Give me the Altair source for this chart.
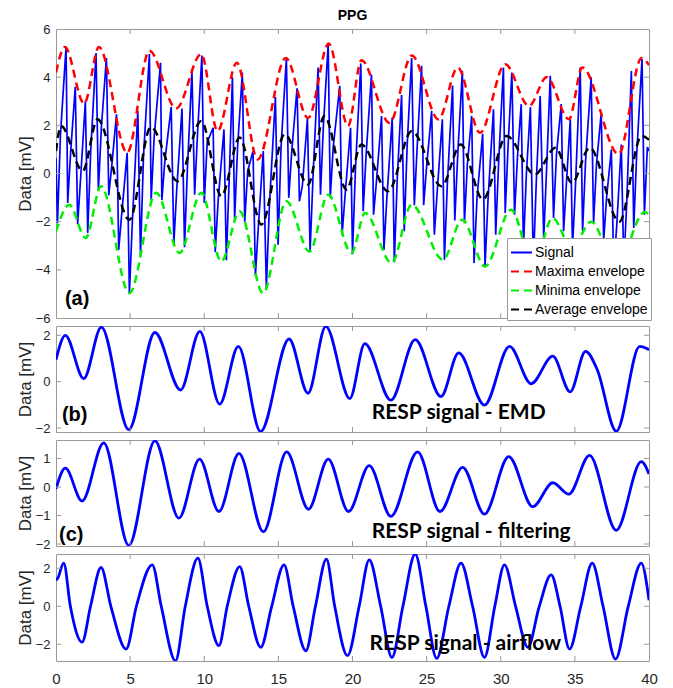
import altair as alt
import pandas as pd

# ---------------- PPG panel (a): signal peaks / troughs ----------------
ppg_t = [0.0, 0.1, 0.68, 0.79, 1.3, 1.46, 1.98, 2.14, 2.7, 2.86, 3.4, 3.56, 4.08, 4.23, 4.8, 4.95,
         5.52, 5.7, 6.3, 6.42, 7.05, 7.14, 7.77, 7.95, 8.5, 8.67, 9.17, 9.35, 9.84, 10.0, 10.6, 10.74,
         11.33, 11.49, 11.9, 12.05, 12.57, 12.73, 13.29, 13.45, 13.98, 14.19, 14.8, 14.98, 15.54, 15.7,
         16.26, 16.42, 16.96, 17.14, 17.68, 17.84, 18.36, 18.5, 19.14, 19.3, 19.87, 20.0, 20.56, 20.72,
         21.28, 21.42, 21.96, 22.12, 22.68, 22.82, 23.31, 23.49, 23.99, 24.17, 24.66, 24.8, 25.34, 25.52,
         26.06, 26.2, 26.75, 26.9, 27.41, 27.55, 28.04, 28.2, 28.78, 28.94, 29.51, 29.66, 30.18, 30.3,
         30.75, 30.93, 31.38, 31.53, 32.0, 32.2, 32.66, 32.9, 33.34, 33.56, 34.08, 34.24, 34.69, 34.84,
         35.36, 35.52, 36.1, 36.26, 36.78, 36.94, 37.46, 37.62, 38.13, 38.3, 38.81, 38.97, 39.53, 39.69, 40.0]
ppg_v = [0.65, -2.05, 5.26, -1.22, 3.6, -2.1, 3.0, -2.47, 5.0, -0.7, 4.8, -0.9, 2.46, -3.17, 0.86, -5.0,
         2.6, -3.4, 4.96, -1.1, 4.6, -1.1, 2.76, -2.9, 2.7, -3.06, 4.24, -0.88, 4.9, -1.22, 1.9, -3.26,
         1.83, -3.6, 4.0, -1.9, 4.19, -2.0, 0.93, -4.24, 0.93, -4.76, 3.18, -2.96, 4.79, -1.01,
         3.54, -1.15, 2.29, -3.24, 4.4, -0.88, 5.38, -1.0, 3.64, -2.54, 1.9, -3.35, 4.57, -1.57,
         4.1, -1.71, 2.39, -3.17, 2.32, -3.68, 3.26, -2.4, 4.79, -1.32, 4.47, -1.32, 2.6, -2.54,
         2.25, -3.58, 3.65, -1.95, 4.26, -2.06, 2.39, -3.72, 1.65, -3.86, 2.67, -2.54, 4.4, -1.64,
         4.19, -1.71, 2.88, -3.1, 2.76, -3.8, 3.22, -2.68, 4.06, -1.85, 2.88, -2.4, 2.25, -3.1,
         4.4, -2.4, 4.0, -2.06, 2.53, -2.8, 1.0, -3.93, 1.2, -3.8, 4.26, -2.26, 4.75, -1.71, 0.93]
# shoulders on each upstroke (kinks between a trough and the next peak)
sh_t = [0.3, 0.99, 1.66, 2.34, 3.06, 3.76, 4.43, 5.15, 5.9, 6.62, 7.34, 8.15, 8.87, 9.55, 10.2, 10.94,
        11.69, 12.25, 12.93, 13.65, 14.39, 15.18, 15.9, 16.62, 17.34, 18.04, 18.7, 19.5, 20.2, 20.92,
        21.62, 22.32, 23.02, 23.69, 24.37, 25.0, 25.72, 26.4, 27.1, 27.75, 28.4, 29.14, 29.86, 30.5,
        31.13, 31.73, 32.4, 33.1, 33.76, 34.44, 35.04, 35.72, 36.46, 37.14, 37.82, 38.5, 39.17, 39.89]
sh_v = [1.6, 0.9, -0.2, 0.9, 1.9, 0.3, -1.7, -2.0, 0.7, 1.5, 0.5, -0.6, 0.3, 1.7, 1.3, -1.1,
        -0.1, 1.1, 0.1, -2.2, -1.4, 1.1, 0.9, -0.5, -0.1, 2.0, 1.1, -0.9, 0.2, 0.8,
        -0.3, -1.0, -0.2, 1.2, 1.2, 0.3, -0.7, -0.4, 0.8, 0.4, -1.0, -1.1, 0.5, 1.2,
        0.7, 0.0, -0.3, 0.3, 0.8, -0.3, -0.5, 0.5, 0.4, -1.0, -2.2, -1.2, 0.8, 1.1]

# envelopes (local extrema of each dashed curve)
max_t = [0, 0.6, 1.9, 2.9, 4.8, 6.3, 8.1, 9.8, 10.9, 12.2, 13.6, 15.5, 17.0, 18.4, 19.7, 20.6, 22.5,
         24.0, 25.8, 27.1, 28.6, 30.3, 31.9, 33.1, 34.6, 35.5, 37.95, 39.5, 40]
max_v = [4.2, 5.25, 2.9, 5.25, 0.86, 5.1, 2.7, 4.96, 1.76, 4.6, 0.58, 4.8, 2.3, 5.4, 1.97, 4.7, 2.1,
         4.9, 2.25, 4.4, 1.69, 4.54, 2.8, 4.0, 2.25, 4.4, 0.8, 4.8, 4.5]
min_t = [0, 0.9, 2.0, 3.04, 4.95, 6.76, 8.33, 9.8, 11.15, 12.39, 13.97, 15.54, 17.1, 18.36, 19.93,
         20.85, 22.64, 23.99, 26.1, 27.4, 28.94, 30.7, 32.2, 33.5, 34.8, 36.1, 37.8, 39.7, 40]
min_v = [-2.4, -1.3, -2.68, -0.53, -4.97, -0.8, -3.3, -0.8, -3.65, -1.57, -4.97, -1.15, -3.24, -0.88,
         -3.3, -1.64, -3.72, -1.29, -3.58, -1.92, -3.86, -1.5, -3.8, -1.85, -3.1, -2.0, -3.9, -1.6, -1.7]
avg_t = [0, 0.34, 1.8, 2.8, 4.95, 6.4, 8.2, 9.8, 11.15, 12.39, 13.85, 15.43, 17.0, 18.1, 19.6, 20.6,
         22.4, 24.0, 26.0, 27.3, 28.8, 30.4, 32.3, 33.7, 34.8, 36.0, 38.0, 39.5, 40]
avg_v = [0.93, 1.97, 0.1, 2.25, -1.92, 1.93, -0.32, 2.18, -0.94, 1.49, -2.12, 1.63, -0.46, 2.39, -0.67,
         1.2, -0.74, 1.76, -0.53, 1.2, -1.08, 1.56, -0.04, 1.07, -0.39, 1.07, -2.0, 1.56, 1.4]

# ---------------- RESP panels ----------------
emd_t = [0, 0.63, 1.87, 3.06, 4.91, 6.67, 8.4, 9.7, 11.04, 12.3, 13.8, 15.72, 17.0, 18.2, 19.82, 20.83,
         22.59, 24.23, 25.97, 27.16, 28.9, 30.59, 32.05, 33.51, 34.68, 35.72, 36.5, 37.8, 39.37, 40]
emd_v = [0.95, 2.0, 0.13, 2.35, -2.07, 2.12, -0.36, 2.17, -0.97, 1.52, -2.15, 1.84, -0.5, 2.38, -0.73,
         1.64, -0.8, 1.81, -0.64, 1.24, -1.01, 1.52, -0.09, 1.1, -0.44, 1.31, 0.53, -2.14, 1.52, 1.38]
filt_t = [0, 0.63, 1.76, 3.22, 4.91, 6.67, 8.29, 9.68, 10.99, 12.34, 13.99, 15.56, 17.03, 18.36, 19.73,
          21.13, 22.59, 24.39, 25.9, 27.43, 28.9, 30.54, 32.16, 33.51, 34.59, 35.99, 37.79, 39.48, 40]
filt_v = [-0.06, 0.66, -0.49, 1.55, -2.05, 1.62, -1.09, 0.98, -0.86, 1.18, -1.57, 1.23, -0.78, 0.98,
          -0.86, 0.75, -1.03, 1.23, -0.86, 0.69, -0.95, 1.07, -0.69, 0.15, -0.25, 1.11, -1.52, 0.89, 0.46]
air_t = [0, 0.1, 0.52, 1.76, 3.04, 4.73, 6.49, 8.06, 9.57, 10.99, 12.39, 13.81, 15.38, 16.85, 18.24,
         19.66, 21.13, 22.66, 24.23, 25.68, 27.32, 28.9, 30.25, 31.83, 33.4, 34.64, 36.17, 37.74, 39.48, 40]
air_v = [1.38, 1.45, 2.27, -1.89, 2.04, -2.25, 2.18, -2.87, 2.53, -2.07, 2.09, -2.16, 2.18, -2.34, 2.48,
         -2.6, 2.44, -2.69, 2.74, -2.74, 2.27, -2.69, 2.18, -2.16, 1.65, -2.25, 2.27, -2.78, 2.27, 0.32]
# zero crossings of the airflow trace
air_zero_t = [0.97, 2.33, 3.7, 5.42, 7.1, 8.72, 10.2, 11.55, 13.0, 14.55, 16.0, 17.5, 18.8, 20.45,
              21.9, 23.4, 24.95, 26.5, 28.1, 29.6, 31.0, 32.6, 34.0, 35.4, 36.9, 38.6]

series_names = ["Signal", "Maxima envelope", "Minima envelope", "Average envelope"]
series_colors = ["#0000ff", "#ff0000", "#00ee00", "#000000"]
series_dash = [[1, 0], [8, 5], [8, 5], [8, 5]]

x_ticks = [0, 5, 10, 15, 20, 25, 30, 35, 40]
x_inner = [5, 10, 15, 20, 25, 30, 35]

FONT = "Liberation Sans"
W = 593
BOX = "#9a9a9a"
TXT = "#262626"
x_scale = alt.Scale(domain=[0, 40], nice=False, zero=False)


def yaxis(vals, H):
    return alt.Axis(values=vals, tickSize=0, domain=False, grid=False, labelFontSize=13,
                    labelPadding=6, labelColor=TXT, labelFont=FONT, title="Data [mV]",
                    titleFont=FONT, titleFontSize=17, titleFontWeight="normal", titleColor=TXT,
                    titleX=-31, titleY=H / 2, titleAlign="center", titleBaseline="middle")


def inner_ticks(xe, ye, yvals, H):
    xt = pd.DataFrame({"t": x_inner})
    yt = pd.DataFrame({"v": yvals})
    rk = dict(color=BOX, strokeWidth=1)
    return [
        alt.Chart(xt).mark_rule(**rk).encode(x=xe, y=alt.value(0), y2=alt.value(5)),
        alt.Chart(xt).mark_rule(**rk).encode(x=xe, y=alt.value(H - 5), y2=alt.value(H)),
        alt.Chart(yt).mark_rule(**rk).encode(y=ye, x=alt.value(0), x2=alt.value(5)),
        alt.Chart(yt).mark_rule(**rk).encode(y=ye, x=alt.value(W - 5), x2=alt.value(W)),
    ]


def label(t, v, txt, xe, ye, font, size, weight):
    df = pd.DataFrame({"t": [t], "v": [v], "txt": [txt]})
    return alt.Chart(df).mark_text(align="left", baseline="middle", font=font, fontSize=size,
                                   fontWeight=weight, color="#000000").encode(
        x=xe, y=ye, text="txt:N")


# ---------------- panel (a) ----------------
HA = 289
ya = alt.Scale(domain=[-6, 6], nice=False, zero=False)
leg = alt.Legend(title=None, orient="none", legendX=451, legendY=209, fillColor="white",
                 strokeColor=BOX, padding=3, symbolType="stroke", symbolSize=441,
                 symbolStrokeWidth=2, labelFontSize=14, labelFont=FONT, labelColor="#000000",
                 rowPadding=0, labelOffset=2)
color_enc = alt.Color("series:N", scale=alt.Scale(domain=series_names, range=series_colors), legend=leg)
dash_enc = alt.StrokeDash("series:N", scale=alt.Scale(domain=series_names, range=series_dash), legend=leg)

df_sig = pd.concat([pd.DataFrame({"t": ppg_t, "v": ppg_v}),
                    pd.DataFrame({"t": sh_t, "v": sh_v})]).sort_values("t")
df_sig["series"] = "Signal"
df_max = pd.DataFrame({"t": max_t, "v": max_v, "series": "Maxima envelope"})
df_min = pd.DataFrame({"t": min_t, "v": min_v, "series": "Minima envelope"})
df_avg = pd.DataFrame({"t": avg_t, "v": avg_v, "series": "Average envelope"})

xa = alt.X("t:Q", scale=x_scale, axis=None)
yae = alt.Y("v:Q", scale=ya, axis=yaxis([-6, -4, -2, 0, 2, 4, 6], HA))
sig = alt.Chart(df_sig).mark_line(strokeWidth=1.7, clip=True).encode(
    x=xa, y=yae, color=color_enc, strokeDash=dash_enc, order="t:Q")
envs = [alt.Chart(d).mark_line(strokeWidth=2.5, interpolate="monotone", clip=True).encode(
    x=xa, y=yae, color=color_enc, strokeDash=dash_enc)
    for d in (df_max, df_min, df_avg)]

panel_a = alt.layer(
    sig, *envs, *inner_ticks(xa, yae, [-4, -2, 0, 2, 4], HA),
    label(0.6, -5.2, "(a)", xa, yae, FONT, 20, "bold"),
).properties(width=W, height=HA,
             title=alt.TitleParams("PPG", font=FONT, fontSize=14, fontWeight="bold", color="#000000",
                                   offset=0, frame="group", anchor="middle"))


def resp_panel(df, dom, yvals, H, tag, tag_xy, caption, cap_xy, interp, show_x=False):
    ys = alt.Scale(domain=dom, nice=False, zero=False)
    if show_x:
        xax = alt.Axis(values=x_ticks, tickSize=0, domain=False, grid=False, labelFontSize=15,
                       labelPadding=10, labelFlush=False, labelColor=TXT, labelFont=FONT,
                       title=None, format="d")
        xe = alt.X("t:Q", scale=x_scale, axis=xax)
    else:
        xe = alt.X("t:Q", scale=x_scale, axis=None)
    ye = alt.Y("v:Q", scale=ys, axis=yaxis(yvals, H))
    line = alt.Chart(df).mark_line(color="#0000ff", strokeWidth=2.8, interpolate=interp,
                                   clip=True).encode(x=xe, y=ye, order="t:Q")
    layers = [line] + inner_ticks(xe, ye, yvals, H)
    if tag:
        layers.append(label(tag_xy[0], tag_xy[1], tag, xe, ye, FONT, 20, "bold"))
    layers.append(label(cap_xy[0], cap_xy[1], caption, xe, ye, "Lato", 21, "bold"))
    return alt.layer(*layers).properties(width=W, height=H)


df_emd = pd.DataFrame({"t": emd_t, "v": emd_v})
df_filt = pd.DataFrame({"t": filt_t, "v": filt_v})
df_air = pd.concat([pd.DataFrame({"t": air_t, "v": air_v}),
                    pd.DataFrame({"t": air_zero_t, "v": [0.0] * len(air_zero_t)})]).sort_values("t")

panel_b = resp_panel(df_emd, [-2.17, 2.4], [-2, 0, 2], 106, "(b)", (0.4, -1.44),
                     "RESP signal - EMD", (21.3, -1.35), "monotone")
panel_c = resp_panel(df_filt, [-2.07, 1.65], [-2, -1, 0, 1], 106, "(c)", (0.2, -1.68),
                     "RESP signal - filtering", (21.3, -1.58), "monotone")
panel_d = resp_panel(df_air, [-2.88, 2.75], [-2, 0, 2], 107, None, None,
                     "RESP signal - airflow", (21.15, -2.0), "monotone", show_x=True)

chart = alt.vconcat(panel_a, panel_b, panel_c, panel_d, spacing=8, bounds="flush").properties(
    padding={"left": 7, "top": 0, "right": 5, "bottom": 0}
).configure_view(stroke=BOX, strokeWidth=1)

chart.save("out.html", embed_options={"renderer": "svg", "actions": False})
